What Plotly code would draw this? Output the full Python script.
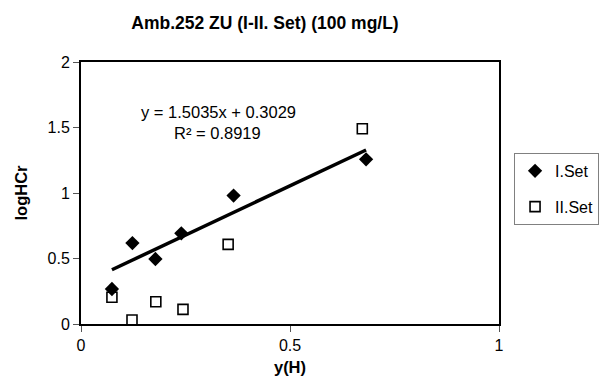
import plotly.graph_objects as go

set1_x = [0.074, 0.123, 0.178, 0.240, 0.365, 0.682]
set1_y = [0.267, 0.618, 0.496, 0.692, 0.980, 1.257]
set2_x = [0.074, 0.122, 0.179, 0.244, 0.352, 0.673]
set2_y = [0.204, 0.031, 0.170, 0.112, 0.608, 1.491]
slope = 1.5035
intercept = 0.3029
r2 = 0.8919

trend_x = [min(set1_x), max(set1_x)]
trend_y = [slope * v + intercept for v in trend_x]

FONT = "Liberation Sans, Arial"

fig = go.Figure()
fig.add_trace(go.Scatter(x=set1_x, y=set1_y, mode="markers", name="I.Set",
                         legendgroup="a",
                         marker=dict(symbol="diamond", size=11, color="black")))
fig.add_trace(go.Scatter(x=set2_x, y=set2_y, mode="markers", name="II.Set",
                         legendgroup="b",
                         marker=dict(symbol="square-open", size=10, color="black",
                                     line=dict(width=1.6, color="black"))))
fig.add_trace(go.Scatter(x=trend_x, y=trend_y, mode="lines", showlegend=False,
                         line=dict(color="black", width=3.5)))

fig.add_annotation(x=0.328, y=1.618, xref="x", yref="y", showarrow=False,
                   text=f"y = {slope}x + {intercept}",
                   font=dict(family=FONT, size=16.5, color="black"))
fig.add_annotation(x=0.326, y=1.458, xref="x", yref="y", showarrow=False,
                   text=f"R² = {r2}",
                   font=dict(family=FONT, size=16.5, color="black"))

# page body has an 8px margin; positions below are compensated for it
fig.update_layout(
    width=609, height=381,
    margin=dict(l=73, r=118, t=54, b=65),
    paper_bgcolor="white", plot_bgcolor="white",
    font=dict(family=FONT, size=16, color="black"),
    title=dict(text="<b>Amb.252 ZU (I-II. Set) (100 mg/L)</b>",
               x=257 / 609, xanchor="center", y=1 - 15 / 381, yanchor="middle",
               font=dict(size=17.5, color="black")),
    xaxis=dict(range=[0, 1], tickvals=[0, 0.5, 1], ticktext=["0", "0.5", "1"],
               showgrid=False, zeroline=False, showline=True, linecolor="black",
               linewidth=2, mirror=True, ticks="outside", ticklen=6, tickwidth=1,
               tickcolor="#555555",
               title=dict(text="<b>y(H)</b>", font=dict(size=16.5), standoff=8)),
    yaxis=dict(range=[0, 2], tickvals=[0, 0.5, 1, 1.5, 2],
               ticktext=["0", "0.5", "1", "1.5", "2"],
               showgrid=False, zeroline=False, showline=True, linecolor="black",
               linewidth=2, mirror=True, ticks="outside", ticklen=6, tickwidth=1,
               tickcolor="#555555",
               title=dict(text="<b>logHCr</b>", font=dict(size=16.5), standoff=16)),
    legend=dict(x=1.036, y=0.653, xanchor="left", yanchor="top",
                bordercolor="#808080", borderwidth=1, bgcolor="white",
                traceorder="grouped", tracegroupgap=12,
                font=dict(size=16, color="black")),
)

fig.write_html("out.html")
